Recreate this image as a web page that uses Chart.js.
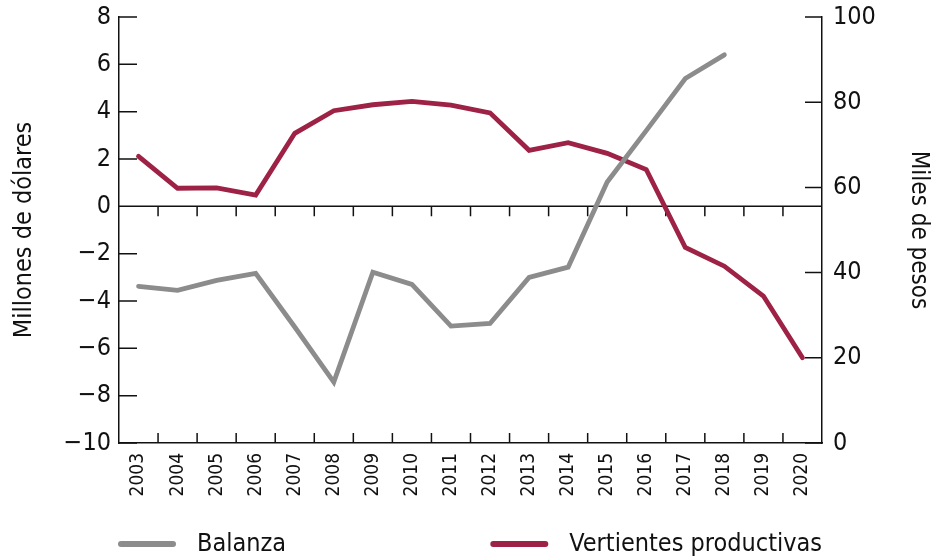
<!DOCTYPE html>
<html>
<head>
<meta charset="utf-8">
<script src="https://cdn.jsdelivr.net/npm/chart.js@4.4.1/dist/chart.umd.min.js"></script>
<style>
  html, body { margin: 0; padding: 0; background: #fff; }
  #wrap { width: 937px; height: 557px; position: relative; }
</style>
</head>
<body>
<div id="wrap"><canvas id="grafica"></canvas></div>
<script>
const anios = ["2003","2004","2005","2006","2007","2008","2009","2010","2011","2012","2013","2014","2015","2016","2017","2018","2019","2020"];
// millones de dolares (eje izquierdo)
const balanza = [-3.38, -3.55, -3.13, -2.83, -5.1, -7.43, -2.78, -3.3, -5.06, -4.95, -3.0, -2.57, 1.03, 3.2, 5.4, 6.4, null, null];
// miles de pesos (eje derecho)
const vertientes = [67.3, 59.8, 59.9, 58.2, 72.7, 78.0, 79.4, 80.2, 79.3, 77.5, 68.7, 70.5, 68.0, 64.2, 45.9, 41.5, 34.5, 20.0];

const fuente = "'Liberation Sans Narrow', 'DejaVu Sans Condensed', sans-serif";
const negro = "#111111";
const gris = "#8c8c8c";
const guinda = "#9d2245";

const menos = (v) => String(v).replace("-", "\u2212");

// marcas de los ejes hacia dentro y linea del cero
const marcas = {
  id: "marcas",
  beforeDatasetsDraw(chart) {
    const { ctx, chartArea: a, scales } = chart;
    const x = scales.x, y = scales.y, y2 = scales.y2;
    const cero = y.getPixelForValue(0);
    ctx.save();
    ctx.strokeStyle = negro;
    ctx.lineWidth = 1.5;
    ctx.beginPath();
    ctx.moveTo(a.left, cero);
    ctx.lineTo(a.right, cero);
    y.ticks.forEach((t) => {
      const py = y.getPixelForValue(t.value);
      ctx.moveTo(a.left, py);
      ctx.lineTo(a.left + 18, py);
    });
    y2.ticks.forEach((t) => {
      const py = y2.getPixelForValue(t.value);
      ctx.moveTo(a.right - 17, py);
      ctx.lineTo(a.right, py);
    });
    for (let i = 1; i < anios.length; i++) {
      const px = (x.getPixelForValue(i - 1) + x.getPixelForValue(i)) / 2;
      ctx.moveTo(px, cero);
      ctx.lineTo(px, cero + 10);
      ctx.moveTo(px, a.bottom - 10);
      ctx.lineTo(px, a.bottom);
    }
    ctx.stroke();
    ctx.restore();
  }
};

// leyenda abajo, un elemento a cada lado
const leyenda = {
  id: "leyenda",
  afterDraw(chart) {
    const { ctx, chartArea: a } = chart;
    const ds = chart.data.datasets;
    const yl = chart.height - 13;
    ctx.save();
    ctx.font = "25px " + fuente;
    ctx.textBaseline = "middle";
    ctx.fillStyle = negro;
    ctx.lineWidth = 6;
    ctx.lineCap = "round";

    ctx.strokeStyle = ds[0].borderColor;
    ctx.beginPath();
    ctx.moveTo(a.left + 2, yl);
    ctx.lineTo(a.left + 54, yl);
    ctx.stroke();
    ctx.textAlign = "left";
    ctx.fillText(ds[0].label, a.left + 78, yl);

    const w = ctx.measureText(ds[1].label).width;
    const tx = a.right - w;
    ctx.strokeStyle = ds[1].borderColor;
    ctx.beginPath();
    ctx.moveTo(tx - 76, yl);
    ctx.lineTo(tx - 24, yl);
    ctx.stroke();
    ctx.fillText(ds[1].label, tx, yl);
    ctx.restore();
  }
};

new Chart(document.getElementById("grafica"), {
  type: "line",
  data: {
    labels: anios,
    datasets: [
      {
        label: "Balanza",
        data: balanza,
        yAxisID: "y",
        borderColor: gris,
        borderWidth: 4.8,
        pointRadius: 0,
        borderCapStyle: "round",
        tension: 0,
      },
      {
        label: "Vertientes productivas",
        data: vertientes,
        yAxisID: "y2",
        borderColor: guinda,
        borderWidth: 4.8,
        pointRadius: 0,
        borderCapStyle: "round",
        tension: 0,
      },
    ],
  },
  options: {
    responsive: true,
    maintainAspectRatio: false,
    animation: false,
    layout: { padding: { left: 0, right: 0, top: 0, bottom: 60 } },
    plugins: {
      legend: { display: false },
      tooltip: { enabled: false },
    },
    scales: {
      x: {
        offset: true,
        grid: { display: false, drawTicks: false },
        border: { display: true, color: negro, width: 1.5 },
        ticks: {
          color: negro,
          font: { family: fuente, size: 19 },
          padding: 10,
          minRotation: 90,
          maxRotation: 90,
          autoSkip: false,
        },
        afterFit: (s) => { s.height = 54; s.paddingLeft = 0; s.paddingRight = 0; },
      },
      y: {
        position: "left",
        min: -10,
        max: 8,
        grid: { display: false, drawTicks: false },
        border: { display: true, color: negro, width: 1.5 },
        ticks: {
          stepSize: 2,
          color: negro,
          padding: 8,
          font: { family: fuente, size: 25 },
          callback: (v) => menos(v),
        },
        title: {
          display: true,
          text: "Millones de dólares",
          color: negro,
          font: { family: fuente, size: 25 },
          padding: { top: 9, bottom: 0 },
        },
        afterFit: (s) => { s.width = 119; s.paddingTop = 17; s.paddingBottom = 10; },
      },
      y2: {
        position: "right",
        min: 0,
        max: 100,
        grid: { display: false, drawTicks: false },
        border: { display: true, color: negro, width: 1.5 },
        ticks: {
          stepSize: 20,
          color: negro,
          padding: 11,
          font: { family: fuente, size: 25 },
        },
        title: {
          display: true,
          text: "Miles de pesos",
          color: negro,
          font: { family: fuente, size: 24 },
          padding: { top: 4, bottom: 0 },
        },
        afterFit: (s) => { s.width = 115; s.paddingTop = 17; s.paddingBottom = 10; },
      },
    },
  },
  plugins: [marcas, leyenda],
});
</script>
</body>
</html>
